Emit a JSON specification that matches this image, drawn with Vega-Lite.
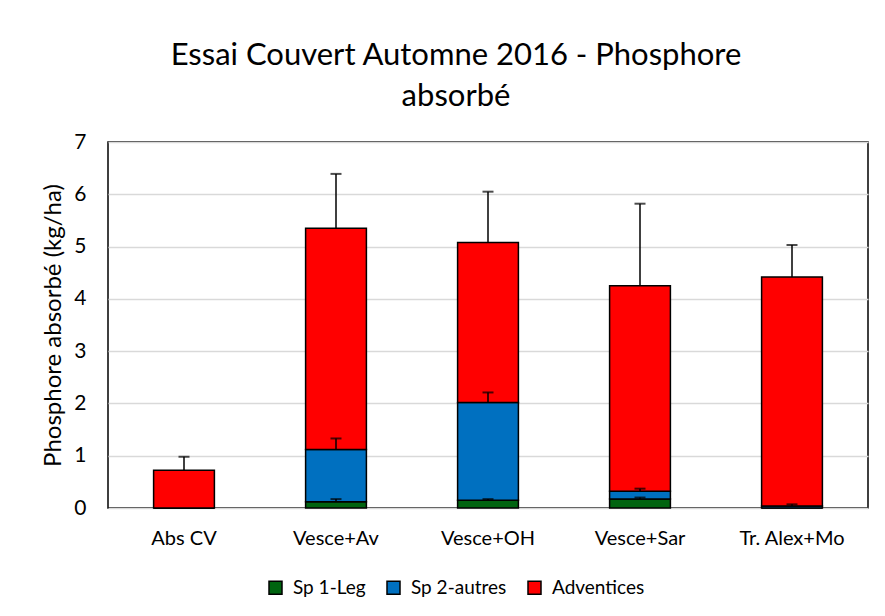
{
  "$schema": "https://vega.github.io/schema/vega-lite/v6.json",
  "autosize": {"type": "none"},
  "width": 760,
  "height": 366,
  "padding": {"left": 108, "top": 142, "right": 17, "bottom": 108},
  "background": "white",
  "config": {
    "font": "Lato",
    "view": {"stroke": "black", "strokeWidth": 1.5},
    "axis": {"labelColor": "#000000", "titleColor": "#000000", "labelFont": "Lato", "titleFont": "Lato"}
  },
  "title": {
    "text": ["Essai Couvert Automne 2016 - Phosphore", "absorbé"],
    "fontSize": 31,
    "fontWeight": "normal",
    "font": "Lato",
    "color": "#000000",
    "lineHeight": 41,
    "anchor": "middle",
    "dx": -32,
    "offset": 18
  },
  "data": {
    "values": [
      {"cat": "Abs CV", "series": "Sp 1-Leg", "order": 1, "value": 0, "hi": null},
      {"cat": "Abs CV", "series": "Sp 2-autres", "order": 2, "value": 0, "hi": null},
      {"cat": "Abs CV", "series": "Adventices", "order": 3, "value": 0.72, "hi": 0.98},
      {"cat": "Vesce+Av", "series": "Sp 1-Leg", "order": 1, "value": 0.12, "hi": 0.17},
      {"cat": "Vesce+Av", "series": "Sp 2-autres", "order": 2, "value": 1.0, "hi": 1.33},
      {"cat": "Vesce+Av", "series": "Adventices", "order": 3, "value": 4.23, "hi": 6.39},
      {"cat": "Vesce+OH", "series": "Sp 1-Leg", "order": 1, "value": 0.15, "hi": 0.17},
      {"cat": "Vesce+OH", "series": "Sp 2-autres", "order": 2, "value": 1.87, "hi": 2.21},
      {"cat": "Vesce+OH", "series": "Adventices", "order": 3, "value": 3.06, "hi": 6.05},
      {"cat": "Vesce+Sar", "series": "Sp 1-Leg", "order": 1, "value": 0.17, "hi": 0.2},
      {"cat": "Vesce+Sar", "series": "Sp 2-autres", "order": 2, "value": 0.15, "hi": 0.37},
      {"cat": "Vesce+Sar", "series": "Adventices", "order": 3, "value": 3.93, "hi": 5.82},
      {"cat": "Tr. Alex+Mo", "series": "Sp 1-Leg", "order": 1, "value": 0, "hi": null},
      {"cat": "Tr. Alex+Mo", "series": "Sp 2-autres", "order": 2, "value": 0.04, "hi": 0.07},
      {"cat": "Tr. Alex+Mo", "series": "Adventices", "order": 3, "value": 4.38, "hi": 5.03}
    ]
  },
  "transform": [
    {"stack": "value", "groupby": ["cat"], "sort": [{"field": "order", "order": "ascending"}], "as": ["y0", "y1"]}
  ],
  "encoding": {
    "x": {
      "field": "cat",
      "type": "nominal",
      "sort": ["Abs CV", "Vesce+Av", "Vesce+OH", "Vesce+Sar", "Tr. Alex+Mo"],
      "scale": {"paddingInner": 0.6, "paddingOuter": 0.3},
      "axis": {
        "title": null,
        "labelAngle": 0,
        "ticks": false,
        "tickSize": 0,
        "domain": false,
        "labelFontSize": 20,
        "labelPadding": 20,
        "labelBaseline": "top"
      }
    }
  },
  "layer": [
    {
      "mark": {"type": "bar", "stroke": "black", "strokeWidth": 1.5},
      "encoding": {
        "y": {
          "field": "y0",
          "type": "quantitative",
          "scale": {"domain": [0, 7], "nice": false},
          "axis": {
            "title": "Phosphore absorbé (kg/ha)",
            "titleFontSize": 24,
            "titleFontWeight": "normal",
            "titlePadding": 8,
            "format": "d",
            "values": [0, 1, 2, 3, 4, 5, 6, 7],
            "ticks": false,
            "tickSize": 0,
            "domain": false,
            "labelFontSize": 21,
            "labelPadding": 22,
            "gridColor": "#D9D9D9",
            "gridWidth": 1.5
          }
        },
        "y2": {"field": "y1"},
        "color": {
          "field": "series",
          "type": "nominal",
          "scale": {"domain": ["Sp 1-Leg", "Sp 2-autres", "Adventices"], "range": ["#006410", "#0070C0", "#FF0000"]},
          "legend": {
            "title": null,
            "orient": "none",
            "direction": "horizontal",
            "legendX": 158,
            "legendY": 436,
            "symbolType": "square",
            "symbolSize": 169,
            "symbolStrokeColor": "black",
            "symbolStrokeWidth": 1.5,
            "labelFontSize": 19,
            "labelColor": "#000000",
            "labelOffset": 8,
            "columnPadding": 18
          }
        }
      }
    },
    {
      "transform": [{"filter": "datum.hi != null"}],
      "mark": {"type": "rule", "color": "black", "strokeWidth": 1.5},
      "encoding": {
        "y": {"field": "y1", "type": "quantitative"},
        "y2": {"field": "hi"}
      }
    },
    {
      "transform": [{"filter": "datum.hi != null"}],
      "mark": {"type": "tick", "color": "black", "size": 11, "thickness": 2, "orient": "horizontal"},
      "encoding": {
        "y": {"field": "hi", "type": "quantitative"}
      }
    }
  ]
}
